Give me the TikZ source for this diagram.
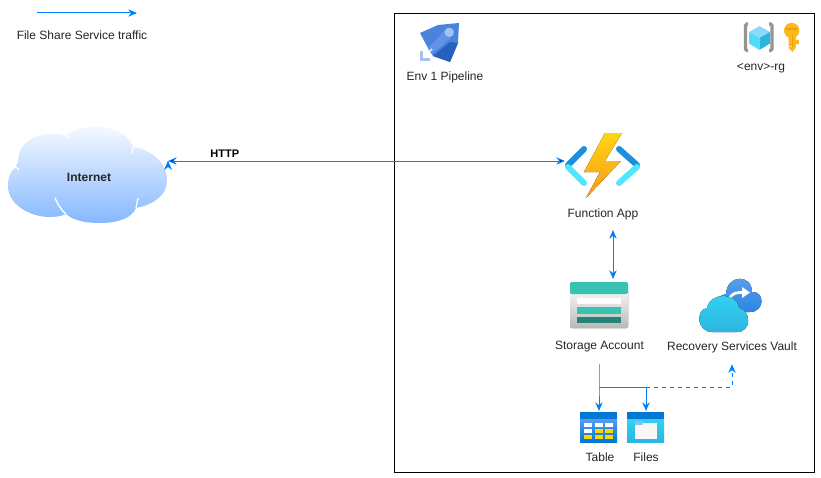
\documentclass[tikz,border=0pt]{standalone}
\usepackage{fontspec}
\setmainfont{Liberation Sans}
\usetikzlibrary{arrows.meta}
\definecolor{flowblue}{HTML}{007FFF}
\definecolor{cloudlow}{HTML}{85B8FF}
\definecolor{cloudtop}{HTML}{F4F9FF}
\definecolor{boltA}{HTML}{FED612}
\definecolor{boltB}{HTML}{F9961C}
\definecolor{armdark}{HTML}{1C8EDE}
\definecolor{armlight}{HTML}{50E6FF}
\definecolor{teal}{HTML}{37C2B1}
\definecolor{tealdark}{HTML}{258277}
\definecolor{azure}{HTML}{0078D4}
\definecolor{azurelight}{HTML}{5EA0EF}
\definecolor{azuremid}{HTML}{2A86E0}
\definecolor{sky}{HTML}{32D4F5}
\definecolor{skylow}{HTML}{2CB5E0}
\definecolor{keygold}{HTML}{FCB918}
\definecolor{keyline}{HTML}{F09E10}
\definecolor{cellgold}{HTML}{FFD400}
\definecolor{rocket}{HTML}{4A82DC}
\definecolor{rocketband}{HTML}{6193E8}
\definecolor{rocketdark}{HTML}{2560C0}
\definecolor{rocketpale}{HTML}{A3C4F0}
\tikzset{
  >={Stealth[length=6.5pt,width=5.5pt]},
  flow/.style={draw=flowblue, line width=0.75pt},
  lbl/.style={inner sep=0pt, font=\fontsize{9}{11}\selectfont, text=black!85},
  tall/.style={lbl, minimum height=25.5pt},
  spot/.style={inner sep=0pt, outer sep=0pt},
}
\begin{document}
\begin{tikzpicture}[x=0.75pt, y=-0.75pt]
  \useasboundingbox (0,0) rectangle (821,478);
  \fill[white] (0,0) rectangle (821,478);

  % legend
  \coordinate (keyA) at (37,13);
  \coordinate (keyB) at (137,13);
  \draw[flow, ->] (keyA) -- (keyB);
  \node[lbl] (keytext) at (82,35) {File Share Service traffic};

  % environment box
  \draw[black, line width=0.75pt] (394.5,13.5) rectangle (814.5,472.5);

  % internet cloud
  \shade[top color=cloudtop, bottom color=cloudlow]
    (15,168) .. controls (9,172) and (8,180) .. (8,187)
    .. controls (9,205) and (30,217) .. (50,217)
    .. controls (56,217) and (62,216) .. (66,214)
    .. controls (75,222) and (90,223) .. (100,223)
    .. controls (118,223) and (132,218) .. (136,208)
    .. controls (155,204) and (167,195) .. (167,180)
    .. controls (167,162) and (150,149) .. (133,147)
    .. controls (128,132) and (110,127) .. (95,127)
    .. controls (82,127) and (72,130) .. (66,136)
    .. controls (50,130) and (18,135) .. (18,162) -- cycle;
  \draw[white, line width=1pt]
    (55,198) .. controls (58,205) and (62,211) .. (66,214)
    (138,198) -- (136,208)
    (133,147) -- (132,154)
    (66,136) -- (70,138)
    (15,166) -- (19,170);
  \node[spot, minimum width=120.75pt, minimum height=60pt] (internet) at (87.5,161) {};
  \node[lbl, font=\fontsize{9}{11}\selectfont\bfseries] (inettext) at (89,177) {Internet};

  % pipeline
  \fill[rocket] (420,33) -- (438,25) -- (459,23) -- (458,43) -- (450,62) -- (433,56) -- (429,50) -- cycle;
  \fill[rocketdark] (433,56) -- (450,42) -- (458,43) -- (450,62) -- cycle;
  \fill[rocketband] (428,48) -- (445,30) -- (451,38) -- (432,54) -- cycle;
  \fill[rocketpale] (449.3,32.3) circle[radius=4.7];
  \draw[white, line width=0.9pt] (425,56) -- (432,49);
  \draw[rocketpale, line width=2.2pt] (421.5,51.5) -- (421.5,59.5) -- (429.5,59.5);
  \node[lbl] (pipetext) at (445,77) {Env 1 Pipeline};

  % resource group and key
  \draw[black!42, line width=2.4pt, rounded corners=1pt] (748,24) -- (745.5,24) -- (745.5,50.5) -- (748,50.5);
  \draw[black!42, line width=2.4pt, rounded corners=1pt] (769,24) -- (772,24) -- (772,50.5) -- (769,50.5);
  \fill[cyan!45!white] (759.5,26) -- (770,32) -- (759.5,38) -- (749,32) -- cycle;
  \fill[sky!85!white] (749,32) -- (759.5,38) -- (759.5,50) -- (749,43.5) -- cycle;
  \fill[skylow] (770,32) -- (759.5,38) -- (759.5,50) -- (770,43.5) -- cycle;
  \fill[keygold] (791.7,30.5) circle[radius=7.7];
  \fill[keygold] (788.5,34) rectangle (796,47) (796,47) -- (792.5,52) -- (788.5,48) -- (788.5,46) -- cycle;
  \fill[keygold] (795,40) rectangle (798.5,44);
  \fill[keyline] (786,28) rectangle (797,29.6);
  \fill[keyline] (792,35) rectangle (792.8,47);
  \node[lbl] (rgtext) at (761,68) {<env>-rg};

  % function app
  \fill[top color=boltA, bottom color=boltB] (605,133) -- (622,133) -- (605,161) -- (621,161) -- (586,198) -- (600,172) -- (584,172) -- cycle;
  \draw[armdark, line width=4.5pt, line cap=round] (568,165) -- (584,149) (619,149) -- (637,165);
  \draw[armlight, line width=4.5pt, line cap=round] (568,167) -- (584,183) (637,167) -- (619,183);
  \node[spot, minimum width=55.5pt, minimum height=49.5pt] (func) at (602,161) {};
  \node[lbl] (functext) at (603,214) {Function App};

  % storage account
  \fill[top color=black!3, bottom color=black!28, rounded corners=1pt] (570,290) rectangle (628,328);
  \fill[teal, rounded corners=1pt] (570,282) rectangle (628,294);
  \fill[white] (577,298) rectangle (621,304);
  \fill[teal] (577,307) rectangle (621,314);
  \fill[tealdark] (577,317) rectangle (621,323);
  \node[spot, minimum width=43.5pt, minimum height=39pt] (storage) at (599,305) {};
  \node[tall] (storetext) at (599.5,347) {Storage Account};

  % recovery vault
  \fill[top color=azurelight, bottom color=azuremid] (725,312) .. controls (713,312) and (713,296) .. (726,294)
    .. controls (727,274) and (752,274) .. (752,292) .. controls (765,291) and (765,312) .. (750,312) -- cycle;
  \draw[white, line width=2pt] (729,299) .. controls (732,293) and (737,292) .. (744,292.5);
  \fill[white] (750,292.5) -- (742,287) -- (742,298) -- cycle;
  \fill[top color=sky, bottom color=skylow] (712,332) .. controls (697,332) and (695,310) .. (707,308)
    .. controls (710,292) and (737,292) .. (739,308) .. controls (751,310) and (752,332) .. (737,332) -- cycle;
  \node[spot, minimum width=46.5pt, minimum height=40pt] (vault) at (730,305) {};
  \node[tall] (vaulttext) at (732,347) {Recovery Services Vault};

  % table
  \fill[top color=azurelight, bottom color=azure] (580,417) rectangle (617,442);
  \fill[azure] (580,412) rectangle (617,419);
  \foreach \colx/\rowy/\cellcol in {584/423/white, 594.5/423/white, 605/423/white,
      584/429/white, 594.5/429/cellgold, 605/429/cellgold,
      584/434.5/cellgold, 594.5/434.5/cellgold, 605/434.5/cellgold}
    \fill[\cellcol] (\colx,\rowy) rectangle ++(8.3,4.4);
  \node[spot, minimum width=27.75pt, minimum height=24pt] (table) at (599,427) {};
  \node[lbl] (tabletext) at (600,457) {Table};

  % files
  \fill[top color=sky, bottom color=skylow] (627,417) rectangle (664,442);
  \fill[azure] (627,412) rectangle (664,419);
  \fill[black!3] (635,423) rectangle (657,439);
  \fill[azurelight!70!white] (635,421) rectangle (643,424.5);
  \node[spot, minimum width=27.75pt, minimum height=24pt] (files) at (646,427) {};
  \node[lbl] (filestext) at (646,457) {Files};

  % links
  \coordinate (syncA) at (613,230);
  \coordinate (syncB) at (613,279);
  \coordinate (forkA) at (599,387);
  \coordinate (forkB) at (646,387);
  \path[flow, <->] (internet.east) edge node[above=2.5pt, lbl, font=\fontsize{8.25}{10}\selectfont\bfseries, text=black, pos=0.143] (httptext) {HTTP} (func.west);
  \draw[flow, ->] (storetext.south -| forkA) -- (forkA) -- (table.north);
  \draw[flow, <->] (syncA) -- (syncB);
  \draw[flow] (forkA) -- (forkB);
  \draw[flow, ->] (forkB) -- (files.north);
  \draw[flow, dashed, ->] (forkB) -| (vaulttext.south);
\end{tikzpicture}
\end{document}
